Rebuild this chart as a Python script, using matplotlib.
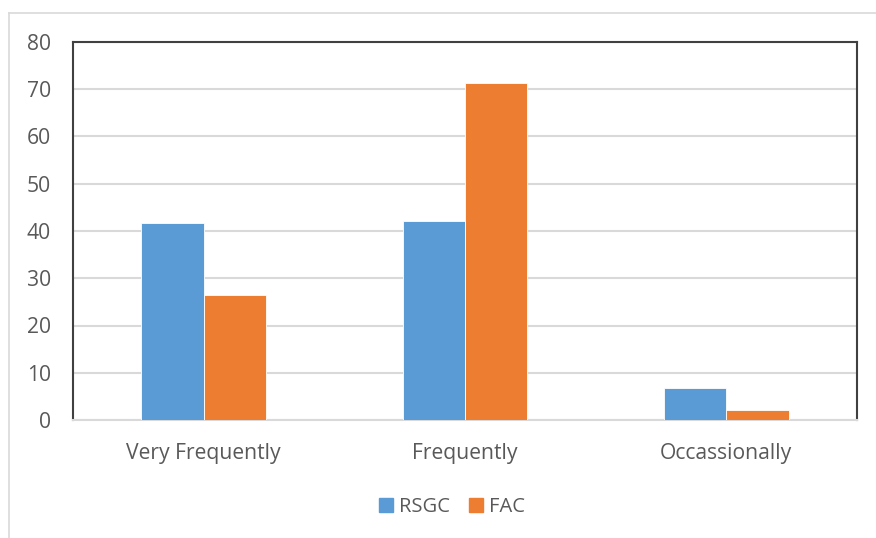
import matplotlib
matplotlib.use("Agg")
import matplotlib.pyplot as plt
import numpy as np
from matplotlib.lines import Line2D
from matplotlib.patches import Patch

categories = ["Very Frequently", "Frequently", "Occassionally"]
rsgc = [41.6, 42.2, 6.7]
fac = [26.5, 71.3, 2.2]
series_names = ["RSGC", "FAC"]
yticks = [0, 10, 20, 30, 40, 50, 60, 70, 80]

blue = "#5b9bd5"
orange = "#ed7d31"
text_color = "#595959"

plt.rcParams["font.family"] = ["Open Sans", "DejaVu Sans"]

W, H = 876, 538
fig = plt.figure(figsize=(W / 100, H / 100), dpi=100)
ax = fig.add_axes([73 / W, 1 - 420 / H, (857 - 73) / W, (420 - 42) / H])

x = np.arange(len(categories))
bw = 0.239
ax.bar(x - bw / 2, rsgc, bw, color=blue, edgecolor="white", linewidth=0.6, zorder=3)
ax.bar(x + bw / 2, fac, bw, color=orange, edgecolor="white", linewidth=0.6, zorder=3)

ax.set_xlim(-0.5, len(categories) - 0.5)
ax.set_ylim(0, 80)
ax.set_yticks(yticks)
ax.set_xticks(x)
ax.set_xticklabels(categories)
ax.yaxis.grid(True, color="#d9d9d9", linewidth=1.5, zorder=0)
ax.set_axisbelow(True)
ax.tick_params(axis="both", length=0, labelsize=15.2, labelcolor=text_color)
ax.tick_params(axis="y", pad=16)
ax.tick_params(axis="x", pad=16.5)

for s in ["left", "top", "right"]:
    ax.spines[s].set_color("#404040")
    ax.spines[s].set_linewidth(1.5)
ax.spines["bottom"].set_color("#d9d9d9")
ax.spines["bottom"].set_linewidth(1.5)

# outer chart border (cut at right and bottom)
fig.add_artist(Line2D([9 / W, 9 / W], [0, 1 - 13 / H], color="#d9d9d9", linewidth=1.2, transform=fig.transFigure))
fig.add_artist(Line2D([9 / W, 1], [1 - 13 / H, 1 - 13 / H], color="#d9d9d9", linewidth=1.2, transform=fig.transFigure))

handles = [Patch(color=blue), Patch(color=orange)]
fig.legend(handles, series_names, loc="center", bbox_to_anchor=(452 / W, 1 - 507 / H),
           ncol=2, frameon=False, fontsize=14.5, labelcolor=text_color,
           handlelength=0.7, handleheight=0.7, handletextpad=0.3, columnspacing=0.9)

fig.savefig("out.png", dpi=100)
